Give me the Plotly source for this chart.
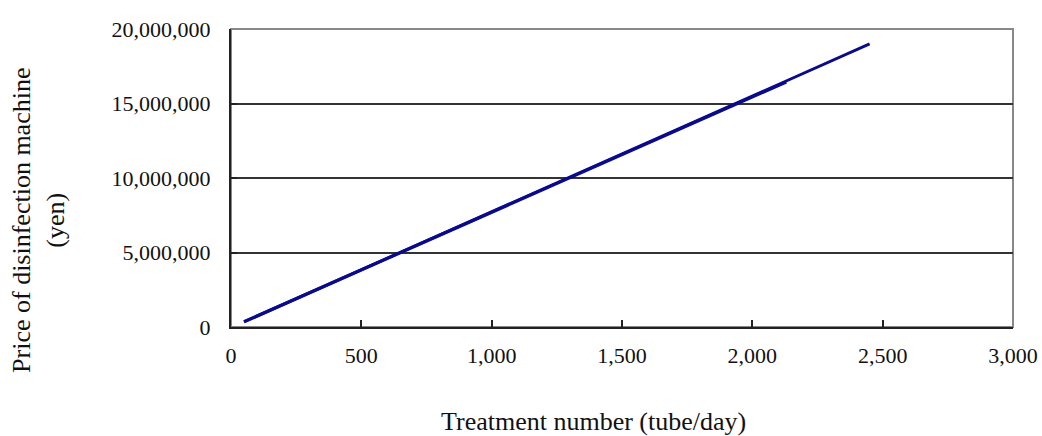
import plotly.graph_objects as go

# Data
treat_a = [50, 650, 1300, 1950, 2450]
price_a = [350000, 5000000, 10050000, 15100000, 19000000]
treat_b = [50, 650, 1300, 1950, 2130]
price_b = [350000, 5000000, 10050000, 15100000, 16450000]

x_ticks = [0, 500, 1000, 1500, 2000, 2500, 3000]
x_tick_text = ["0", "500", "1,000", "1,500", "2,000", "2,500", "3,000"]
y_ticks = [0, 5000000, 10000000, 15000000, 20000000]
y_tick_text = ["0", "5,000,000", "10,000,000", "15,000,000", "20,000,000"]

x_title = "Treatment number (tube/day)"
y_title = "Price of disinfection machine<br>(yen)"

family = "Liberation Serif, Times New Roman, serif"
tick_font = dict(family=family, size=22, color="#111111")
title_font = dict(family=family, size=26, color="#111111")
line_col = "#0a0a8c"

fig = go.Figure()
fig.add_trace(go.Scatter(x=treat_a, y=price_a, mode="lines",
                         line=dict(color=line_col, width=2.8), showlegend=False))
fig.add_trace(go.Scatter(x=treat_b, y=price_b, mode="lines",
                         line=dict(color=line_col, width=3.3), showlegend=False))

fig.add_shape(type="rect", xref="paper", yref="paper", x0=0, y0=0, x1=1, y1=1,
              line=dict(color="#888888", width=2), layer="below")

fig.add_annotation(text=x_title, xref="paper", yref="paper", x=0.464, y=-0.318,
                   xanchor="center", yanchor="middle", showarrow=False, font=title_font)
fig.add_annotation(text=y_title, xref="paper", yref="paper", x=-0.2455, y=0.356,
                   xanchor="center", yanchor="middle", showarrow=False, font=title_font,
                   textangle=-90)

fig.update_layout(
    width=1042, height=436,
    margin=dict(l=231, r=29, t=29, b=109, autoexpand=False),
    paper_bgcolor="white", plot_bgcolor="white",
    font=tick_font,
    showlegend=False,
)
fig.update_xaxes(range=[0, 3000], tickvals=x_ticks, ticktext=x_tick_text,
                 showgrid=False, zeroline=False, automargin=False,
                 showline=True, linecolor="#222222", linewidth=2,
                 ticks="inside", ticklen=7, tickwidth=1.5, tickcolor="#222222",
                 ticklabelstandoff=8, tickfont=tick_font)
fig.update_yaxes(range=[0, 20000000], tickvals=y_ticks, ticktext=y_tick_text,
                 showgrid=True, gridcolor="#333333", gridwidth=1.5, zeroline=False,
                 automargin=False,
                 showline=True, linecolor="#222222", linewidth=2,
                 ticks="inside", ticklen=6, tickwidth=1.5, tickcolor="#222222",
                 ticklabelstandoff=14, tickfont=tick_font)

fig.write_html("out.html", config={"displayModeBar": False},
               post_script="document.body.style.margin='0';")
